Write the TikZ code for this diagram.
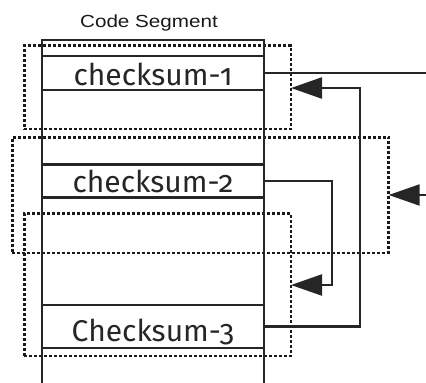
\documentclass[tikz,border=0pt]{standalone}
\usepackage{fontspec}
\setmainfont{Fira Sans}[Numbers=OldStyle]
\newfontfamily\codefont{Liberation Sans}
\usetikzlibrary{arrows.meta}
\begin{document}
\begin{tikzpicture}[x=1pt,y=-1pt,
  frameline/.style={line width=2.5pt, draw=black!85},
  cell/.style={draw=black!85, line width=2.5pt, minimum width=222pt, inner sep=0pt, outer sep=0pt,
    font=\fontsize{30}{30}\selectfont, text depth=0pt, anchor=north west, text=black!85},
  dotbox/.style={draw=black!90, line width=2.7pt, dash pattern=on 3pt off 2pt, inner sep=0pt, outer sep=0pt,
    anchor=north west},
  conn/.style={line width=2.3pt, draw=black!85},
  arr/.style={conn, -{Triangle[length=31pt,width=21pt]}},
  title/.style={font=\codefont\fontsize{17.5}{17.5}\selectfont, anchor=base, text=black!90}
]
\useasboundingbox (0,0) rectangle (426,383);
% dotted boxes
\node[dotbox, minimum width=266.7pt, minimum height=83.5pt] (b1) at (24.3,45.5) {};
\node[dotbox, minimum width=376.4pt, minimum height=115.7pt] (b2) at (12.3,137.3) {};
\node[dotbox, minimum width=266.7pt, minimum height=142.3pt] (b3) at (24.3,213.7) {};
% title
\node[title] (t) at (149,27.5) {\scalebox{1.18}[1]{Code Segment}};
% frame
\draw[frameline] (42,383) -- (42,40) -- (264,40) -- (264,383);
% cells
\node[cell, minimum height=34pt, text height=24pt] (c1) at (42,56) {checksum-1};
\node[cell, minimum height=33.4pt, text height=22pt] (c2) at (42,164.3) {checksum-2};
\node[cell, minimum height=43pt, text height=30pt] (c3) at (42,305) {Checksum-3};
% connectors
\coordinate (o1) at (426,73);
\draw[conn] (c1.east) -- (c1.east -| o1);
\coordinate (k1) at (360,88);
\draw[arr] (c3.east) -| (k1) -- (k1 -| b1.east);
\coordinate (k2) at (332,285);
\draw[arr] (c2.east) -| (k2) -- (k2 -| b3.east);
\coordinate (i2) at (426,195);
\draw[arr] (i2) -- (i2 -| b2.east);
\end{tikzpicture}
\end{document}
